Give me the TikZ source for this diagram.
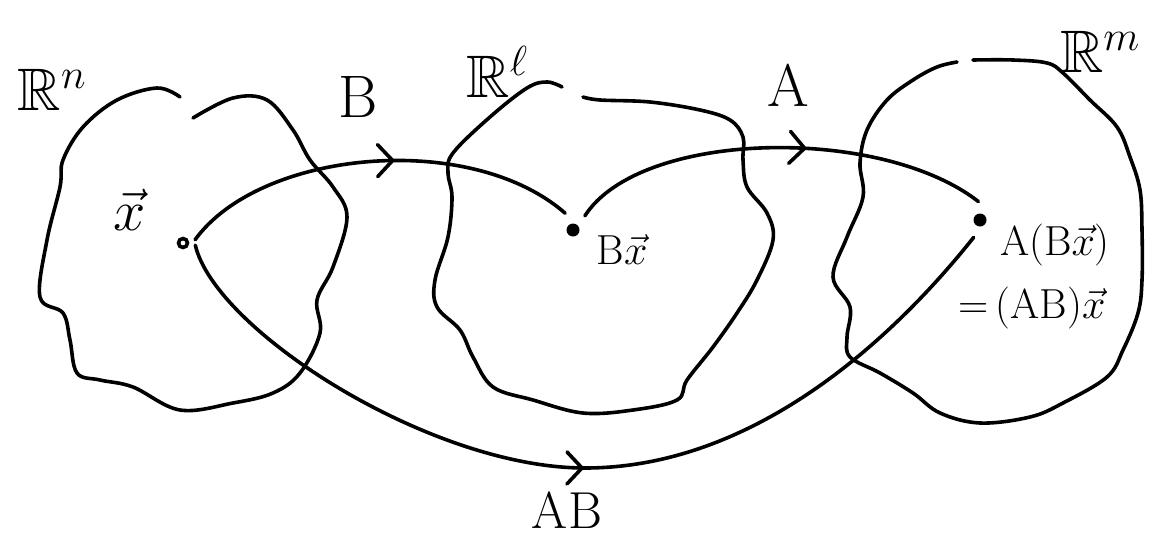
\RequirePackage{fix-cm}
\documentclass[tikz,border=0pt]{standalone}
\usepackage{amssymb}
\usepackage{xcolor}
\definecolor{ink}{RGB}{0,0,0}
\usepackage{tikz}
\usetikzlibrary{arrows.meta,decorations.markings}
\tikzset{
  blob/.style={draw=ink, line width=3.6pt, line cap=round, line join=round},
  mapto/.style={draw=ink, line width=3.6pt, line cap=round,
    postaction=decorate,
    decoration={markings, mark=at position #1 with
      {\arrow[ink]{Straight Barb[length=15pt,width=32pt,line cap=round]}}}},
  dot/.style={circle, fill=ink, inner sep=0pt, minimum size=13pt, outer sep=12pt},
  ring/.style={circle, draw=ink, fill=white, line width=3.6pt, inner sep=0pt,
    minimum size=9pt, outer sep=8pt},
  biglabel/.style={text=ink, font=\fontsize{60}{66}\selectfont},
  midlabel/.style={text=ink, font=\fontsize{42}{48}\selectfont},
}

\begin{document}
\begin{tikzpicture}[x=1pt,y=-1pt]
\fill[white] (0,0) rectangle (1161,538);
\useasboundingbox (0,0) rectangle (1161,538);

\draw[blob] plot[smooth,tension=0.6] coordinates {
  (180,97) (157,88) (117,100) (83,127) (63,160) (60,187) (47,240) (40,297)
  (63,313) (70,340) (77,373) (100,380) (133,387) (180,410) (233,403)
  (273,393) (300,373) (320,333) (317,300) (333,267) (347,217) (333,187)
  (310,160) (293,130) (267,100) (233,98) (193,118)};
\draw[blob] plot[smooth,tension=0.6] coordinates {
  (562,87) (547,82) (527,88) (490,117) (453,153) (448,173) (452,197)
  (448,237) (435,280) (437,307) (460,330) (473,357) (493,387) (533,400)
  (583,413) (633,410) (677,400) (687,380) (713,347) (737,313) (757,280)
  (773,240) (767,213) (747,187) (743,160) (743,137) (730,120) (700,110)
  (650,102) (600,100) (583,97)};
\draw[blob] plot[smooth,tension=0.6] coordinates {
  (957,62) (937,67) (913,80) (887,100) (867,130) (860,163) (863,197)
  (847,237) (833,277) (850,307) (847,337) (850,357) (880,373) (913,393)
  (940,413) (980,423) (1030,417) (1063,403) (1107,377) (1123,350)
  (1138,313) (1142,280) (1142,230) (1140,190) (1130,157) (1117,127)
  (1090,100) (1063,73) (1047,63) (1013,60) (973,60)};

\node[biglabel] (rn) at (52,90) {$\mathbb{R}^n$};
\node[biglabel] (rl) at (497,72) {$\mathbb{R}^\ell$};
\node[biglabel] (rm) at (1100,52) {$\mathbb{R}^m$};

\node[ring] (ptx) at (183,243) {};
\node[dot] (ptbx) at (573,230) {};
\node[dot] (ptabx) at (980,220) {};
\coordinate (abmid) at (585,468);

\draw[mapto=0.55] (ptx.15) .. controls (260,150) and (470,130) .. (ptbx.115);
\draw[mapto=0.57] (ptbx.50) .. controls (640,130) and (880,125) .. (ptabx.95);
\draw[mapto=0.5] (ptx.-10) .. controls (215,330) and (430,468) .. (abmid)
  .. controls (760,468) and (900,330) .. (ptabx.250);

\node[biglabel] (lb) at (358,97) {B};
\node[biglabel] (la) at (788,85) {A};
\node[text=ink, font=\fontsize{52}{58}\selectfont] (lab) at (567,510) {AB};
\node[text=ink, font=\fontsize{58}{64}\selectfont] (lx) at (130,210) {$\vec{x}$};
\node[midlabel] (lbx) at (622,250) {B$\vec{x}$};
\node[midlabel] (labx) at (1055,245) {A(B$\vec{x}$)};
\node[midlabel] (labxx) at (1032,308) {=\,(AB)$\vec{x}$};
\end{tikzpicture}
\end{document}
